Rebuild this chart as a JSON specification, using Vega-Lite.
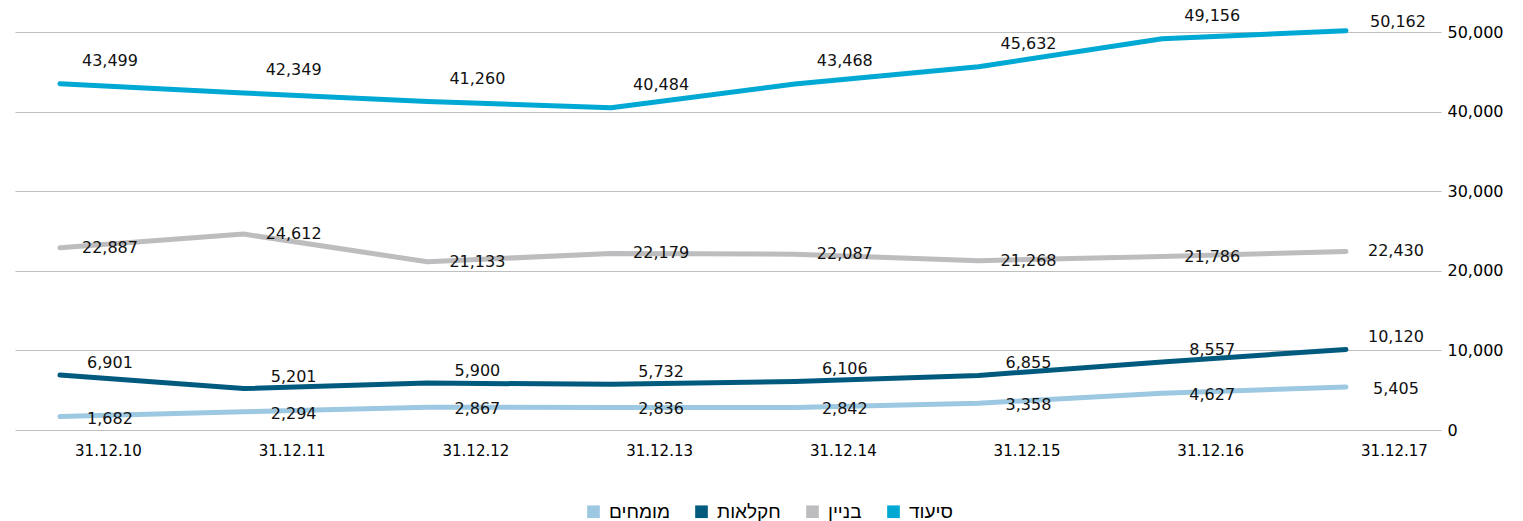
{
  "$schema": "https://vega.github.io/schema/vega-lite/v6.json",
  "width": 1426,
  "height": 398,
  "autosize": {"type": "none"},
  "padding": {"left": 15, "top": 32, "right": 82, "bottom": 91},
  "background": "white",
  "config": {"view": {"stroke": null}},
  "data": {
    "values": [
      {"date": "31.12.10", "series": "סיעוד", "value": 43499},
      {"date": "31.12.11", "series": "סיעוד", "value": 42349},
      {"date": "31.12.12", "series": "סיעוד", "value": 41260},
      {"date": "31.12.13", "series": "סיעוד", "value": 40484},
      {"date": "31.12.14", "series": "סיעוד", "value": 43468},
      {"date": "31.12.15", "series": "סיעוד", "value": 45632},
      {"date": "31.12.16", "series": "סיעוד", "value": 49156},
      {"date": "31.12.17", "series": "סיעוד", "value": 50162},
      {"date": "31.12.10", "series": "בניין", "value": 22887},
      {"date": "31.12.11", "series": "בניין", "value": 24612},
      {"date": "31.12.12", "series": "בניין", "value": 21133},
      {"date": "31.12.13", "series": "בניין", "value": 22179},
      {"date": "31.12.14", "series": "בניין", "value": 22087},
      {"date": "31.12.15", "series": "בניין", "value": 21268},
      {"date": "31.12.16", "series": "בניין", "value": 21786},
      {"date": "31.12.17", "series": "בניין", "value": 22430},
      {"date": "31.12.10", "series": "חקלאות", "value": 6901},
      {"date": "31.12.11", "series": "חקלאות", "value": 5201},
      {"date": "31.12.12", "series": "חקלאות", "value": 5900},
      {"date": "31.12.13", "series": "חקלאות", "value": 5732},
      {"date": "31.12.14", "series": "חקלאות", "value": 6106},
      {"date": "31.12.15", "series": "חקלאות", "value": 6855},
      {"date": "31.12.16", "series": "חקלאות", "value": 8557},
      {"date": "31.12.17", "series": "חקלאות", "value": 10120},
      {"date": "31.12.10", "series": "מומחים", "value": 1682},
      {"date": "31.12.11", "series": "מומחים", "value": 2294},
      {"date": "31.12.12", "series": "מומחים", "value": 2867},
      {"date": "31.12.13", "series": "מומחים", "value": 2836},
      {"date": "31.12.14", "series": "מומחים", "value": 2842},
      {"date": "31.12.15", "series": "מומחים", "value": 3358},
      {"date": "31.12.16", "series": "מומחים", "value": 4627},
      {"date": "31.12.17", "series": "מומחים", "value": 5405}
    ]
  },
  "encoding": {
    "x": {
      "field": "date",
      "type": "ordinal",
      "sort": null,
      "scale": {"type": "point", "padding": 0.381, "align": 0.321},
      "axis": {
        "title": null,
        "labelAngle": 0,
        "domain": false,
        "ticks": false,
        "grid": false,
        "labelOffset": 48,
        "labelFont": "DejaVu Sans",
        "labelFontSize": 15,
        "labelColor": "#000000",
        "labelPadding": 13
      }
    },
    "y": {
      "field": "value",
      "type": "quantitative",
      "scale": {"domain": [0, 50000], "nice": false},
      "axis": {
        "title": null,
        "orient": "right",
        "values": [0, 10000, 20000, 30000, 40000, 50000],
        "format": ",d",
        "domain": false,
        "ticks": false,
        "grid": true,
        "gridColor": "#bfbfbf",
        "gridWidth": 1.2,
        "labelFont": "DejaVu Sans",
        "labelFontSize": 16,
        "labelColor": "#000000",
        "labelPadding": 6
      }
    }
  },
  "layer": [
    {
      "mark": {"type": "line", "strokeWidth": 5, "strokeCap": "round", "strokeJoin": "round", "clip": false},
      "encoding": {
        "color": {
          "field": "series",
          "type": "nominal",
          "scale": {
            "domain": ["מומחים", "חקלאות", "בניין", "סיעוד"],
            "range": ["#9dc8e2", "#005a7e", "#bdbdbf", "#00a8d4"]
          },
          "legend": {
            "title": null,
            "orient": "none",
            "legendX": 569,
            "legendY": 470,
            "direction": "horizontal",
            "symbolType": "square",
            "symbolSize": 160,
            "symbolStrokeWidth": 0,
            "labelFont": "Liberation Sans",
            "labelFontSize": 19,
            "labelColor": "#000000",
            "columnPadding": 22,
            "labelOffset": 6,
            "encode": {
              "symbols": {"update": {"fill": {"scale": "color", "field": "value"}, "opacity": {"value": 1}}}
            }
          }
        }
      }
    },
    {
      "transform": [{"filter": "datum.series == 'סיעוד' && datum.date != '31.12.17'"}],
      "mark": {"type": "text", "dx": 50, "dy": -23, "font": "DejaVu Sans", "fontSize": 16, "color": "#111111"},
      "encoding": {"text": {"field": "value", "type": "quantitative", "format": ",d"}}
    },
    {
      "transform": [{"filter": "datum.series == 'סיעוד' && datum.date == '31.12.17'"}],
      "mark": {"type": "text", "dx": 52, "dy": -9, "font": "DejaVu Sans", "fontSize": 16, "color": "#111111"},
      "encoding": {"text": {"field": "value", "type": "quantitative", "format": ",d"}}
    },
    {
      "transform": [{"filter": "datum.series == 'בניין'"}],
      "mark": {"type": "text", "dx": 50, "dy": 0, "font": "DejaVu Sans", "fontSize": 16, "color": "#111111"},
      "encoding": {"text": {"field": "value", "type": "quantitative", "format": ",d"}}
    },
    {
      "transform": [{"filter": "datum.series == 'חקלאות'"}],
      "mark": {"type": "text", "dx": 50, "dy": -12, "font": "DejaVu Sans", "fontSize": 16, "color": "#111111"},
      "encoding": {"text": {"field": "value", "type": "quantitative", "format": ",d"}}
    },
    {
      "transform": [{"filter": "datum.series == 'מומחים'"}],
      "mark": {"type": "text", "dx": 50, "dy": 2, "font": "DejaVu Sans", "fontSize": 16, "color": "#111111"},
      "encoding": {"text": {"field": "value", "type": "quantitative", "format": ",d"}}
    }
  ]
}
